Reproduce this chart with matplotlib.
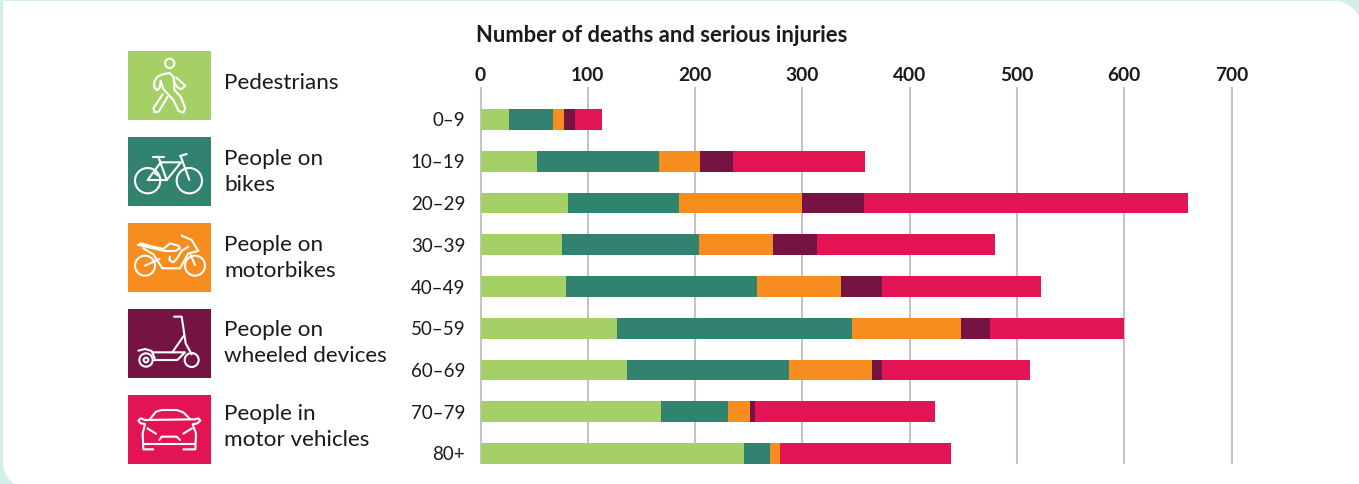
import numpy as np
import matplotlib
matplotlib.use('Agg')
import matplotlib.pyplot as plt
from matplotlib.patches import Rectangle, Circle, PathPatch
from matplotlib.path import Path

plt.rcParams['font.family'] = ['Lato', 'DejaVu Sans']

ages = ['0–9', '10–19', '20–29', '30–39', '40–49', '50–59', '60–69', '70–79', '80+']
pedestrians = [27, 53, 82, 76, 80, 127, 137, 168, 246]
bikes = [41, 113, 103, 128, 178, 219, 151, 63, 24]
motorbikes = [10, 39, 115, 69, 78, 102, 77, 20, 9]
wheeled = [10, 30, 57, 41, 38, 27, 9, 5, 0]
vehicles = [25, 123, 302, 166, 148, 125, 138, 168, 160]
xticks = [0, 100, 200, 300, 400, 500, 600, 700]

series = [pedestrians, bikes, motorbikes, wheeled, vehicles]
colours = ['#A5D066', '#328270', '#F78D1F', '#751342', '#E21454']
labels = ['Pedestrians', 'People on\nbikes', 'People on\nmotorbikes',
          'People on\nwheeled devices', 'People in\nmotor vehicles']
text_col = '#1a1a1a'

W, H = 1359, 484
fig = plt.figure(figsize=(W / 100, H / 100), dpi=100, facecolor='#D4EFEA')

# full figure layer in pixels, for the card and the legend
bg = fig.add_axes([0, 0, 1, 1], zorder=0)
bg.set_xlim(0, W)
bg.set_ylim(H, 0)
bg.axis('off')

r = 28
k = 0.45 * r
right = W + 3
bottom = H + 6
card = Path([(3, 1), (right - r, 1), (right - k, 1), (right, 1 + k), (right, 1 + r),
             (right, bottom), (3 + r, bottom), (3 + k, bottom), (3, bottom - k), (3, bottom - r), (3, 1)],
            [Path.MOVETO, Path.LINETO, Path.CURVE4, Path.CURVE4, Path.CURVE4,
             Path.LINETO, Path.LINETO, Path.CURVE4, Path.CURVE4, Path.CURVE4, Path.CLOSEPOLY])
bg.add_patch(PathPatch(card, fc='white', ec='none'))

box_tops = [51, 137, 223, 309, 395]
label_y = [83, 172, 258, 343, 427]
for top, c, lab, ly in zip(box_tops, colours, labels, label_y):
    bg.add_patch(Rectangle((128, top), 83, 69, fc=c, ec='none'))
    bg.text(224.5, ly, lab, fontsize=16.2, color=text_col, va='center', ha='left', linespacing=1.38)


# icons, strokes measured on a 3x grid from a crop origin
def stroke(pts, ox, oy):
    pts = np.array(pts, dtype=float)
    bg.plot(ox + pts[:, 0] / 3, oy + pts[:, 1] / 3, color='white', lw=1.5,
            solid_joinstyle='round', solid_capstyle='round')


def ring(x, y, rad, ox, oy):
    bg.add_patch(Circle((ox + x / 3, oy + y / 3), rad / 3, fc='none', ec='white', lw=1.5))


# pedestrian
ox, oy = 120, 45
ring(149, 55, 14, ox, oy)
stroke([(128, 88), (112, 95), (103, 110), (103, 128), (112, 136), (119, 128), (122, 108)], ox, oy)
stroke([(128, 88), (148, 84), (160, 95), (163, 112), (173, 128), (185, 132), (196, 122), (168, 97)], ox, oy)
stroke([(122, 108), (130, 132), (160, 165), (176, 198), (190, 203), (196, 190), (182, 155), (163, 135), (163, 112)], ox, oy)
stroke([(128, 148), (100, 190), (104, 202), (116, 200), (143, 155)], ox, oy)

# bike
ring(83, 407, 38, ox, oy)
ring(208, 407, 38, ox, oy)
stroke([(100, 335), (132, 335)], ox, oy)
stroke([(115, 335), (140, 405), (83, 405), (122, 352), (183, 352), (140, 405)], ox, oy)
stroke([(180, 333), (200, 327)], ox, oy)
stroke([(182, 333), (208, 405)], ox, oy)
stroke([(105, 385), (117, 393)], ox, oy)

# motorbike
ox, oy = 120, 215
ring(75, 152, 30, ox, oy)
ring(225, 152, 30, ox, oy)
stroke([(75, 152), (118, 132)], ox, oy)
stroke([(55, 90), (62, 85), (100, 95), (130, 102), (150, 85), (175, 92), (180, 100), (165, 108), (135, 108), (100, 100), (55, 90)], ox, oy)
stroke([(70, 100), (100, 118), (127, 160), (180, 160), (205, 115), (235, 108)], ox, oy)
stroke([(185, 62), (215, 75), (235, 108)], ox, oy)
stroke([(212, 120), (225, 150)], ox, oy)
stroke([(150, 125), (148, 135), (160, 142), (170, 132), (185, 108), (205, 95)], ox, oy)

# scooter
stroke([(162, 305), (185, 305), (197, 385), (215, 418)], ox, oy)
stroke([(193, 360), (157, 412)], ox, oy)
stroke([(100, 412), (195, 412), (172, 435), (100, 435)], ox, oy)
stroke([(55, 407), (75, 402), (95, 408), (104, 430)], ox, oy)
ring(78, 435, 20, ox, oy)
ring(78, 435, 7, ox, oy)
ring(215, 435, 21, ox, oy)

# car
ox, oy = 120, 385
stroke([(90, 102), (108, 80), (125, 75), (170, 75), (190, 82), (210, 102)], ox, oy)
stroke([(75, 105), (225, 103)], ox, oy)
stroke([(75, 105), (62, 100), (55, 107), (62, 115), (75, 117), (68, 145), (70, 193), (100, 193)], ox, oy)
stroke([(225, 103), (235, 100), (241, 107), (232, 115), (218, 118), (228, 145), (226, 193), (190, 193)], ox, oy)
stroke([(72, 178), (226, 178)], ox, oy)
stroke([(118, 165), (125, 155), (170, 155), (180, 165)], ox, oy)
stroke([(82, 130), (108, 146)], ox, oy)
stroke([(190, 146), (216, 130)], ox, oy)

# chart
left_px, right_px, top_px, bot_px = 478, 1233, 87, 464
zero_px = 480.5
unit = (1231.5 - zero_px) / 700
row = 41.75
first = 119.5
ax = fig.add_axes([left_px / W, 1 - bot_px / H, (right_px - left_px) / W, (bot_px - top_px) / H], zorder=1)
ax.patch.set_alpha(0)
ax.set_xlim((left_px - zero_px) / unit, (right_px - zero_px) / unit)
ax.set_ylim((bot_px - first) / row, (top_px - first) / row)

y = np.arange(len(ages))
start = np.zeros(len(ages))
for vals, c in zip(series, colours):
    ax.barh(y, vals, left=start, height=0.5, color=c, zorder=3)
    start = start + np.array(vals)

ax.set_axisbelow(True)
ax.grid(axis='x', color='#C4C4C4', lw=1.5)
ax.xaxis.tick_top()
ax.set_xticks(xticks)
ax.set_xticklabels(xticks, fontsize=13.8, fontweight='bold', color=text_col)
ax.set_yticks(y)
ax.set_yticklabels(ages, fontsize=13.5, color=text_col)
ax.tick_params(axis='x', length=0, pad=2.5)
ax.tick_params(axis='y', length=0, pad=9.2)
for s in ax.spines.values():
    s.set_visible(False)

bg.text(476, 36, 'Number of deaths and serious injuries', fontsize=15.8,
        fontweight='bold', color=text_col, va='center', ha='left')

fig.savefig('out.png', dpi=100, facecolor=fig.get_facecolor())
